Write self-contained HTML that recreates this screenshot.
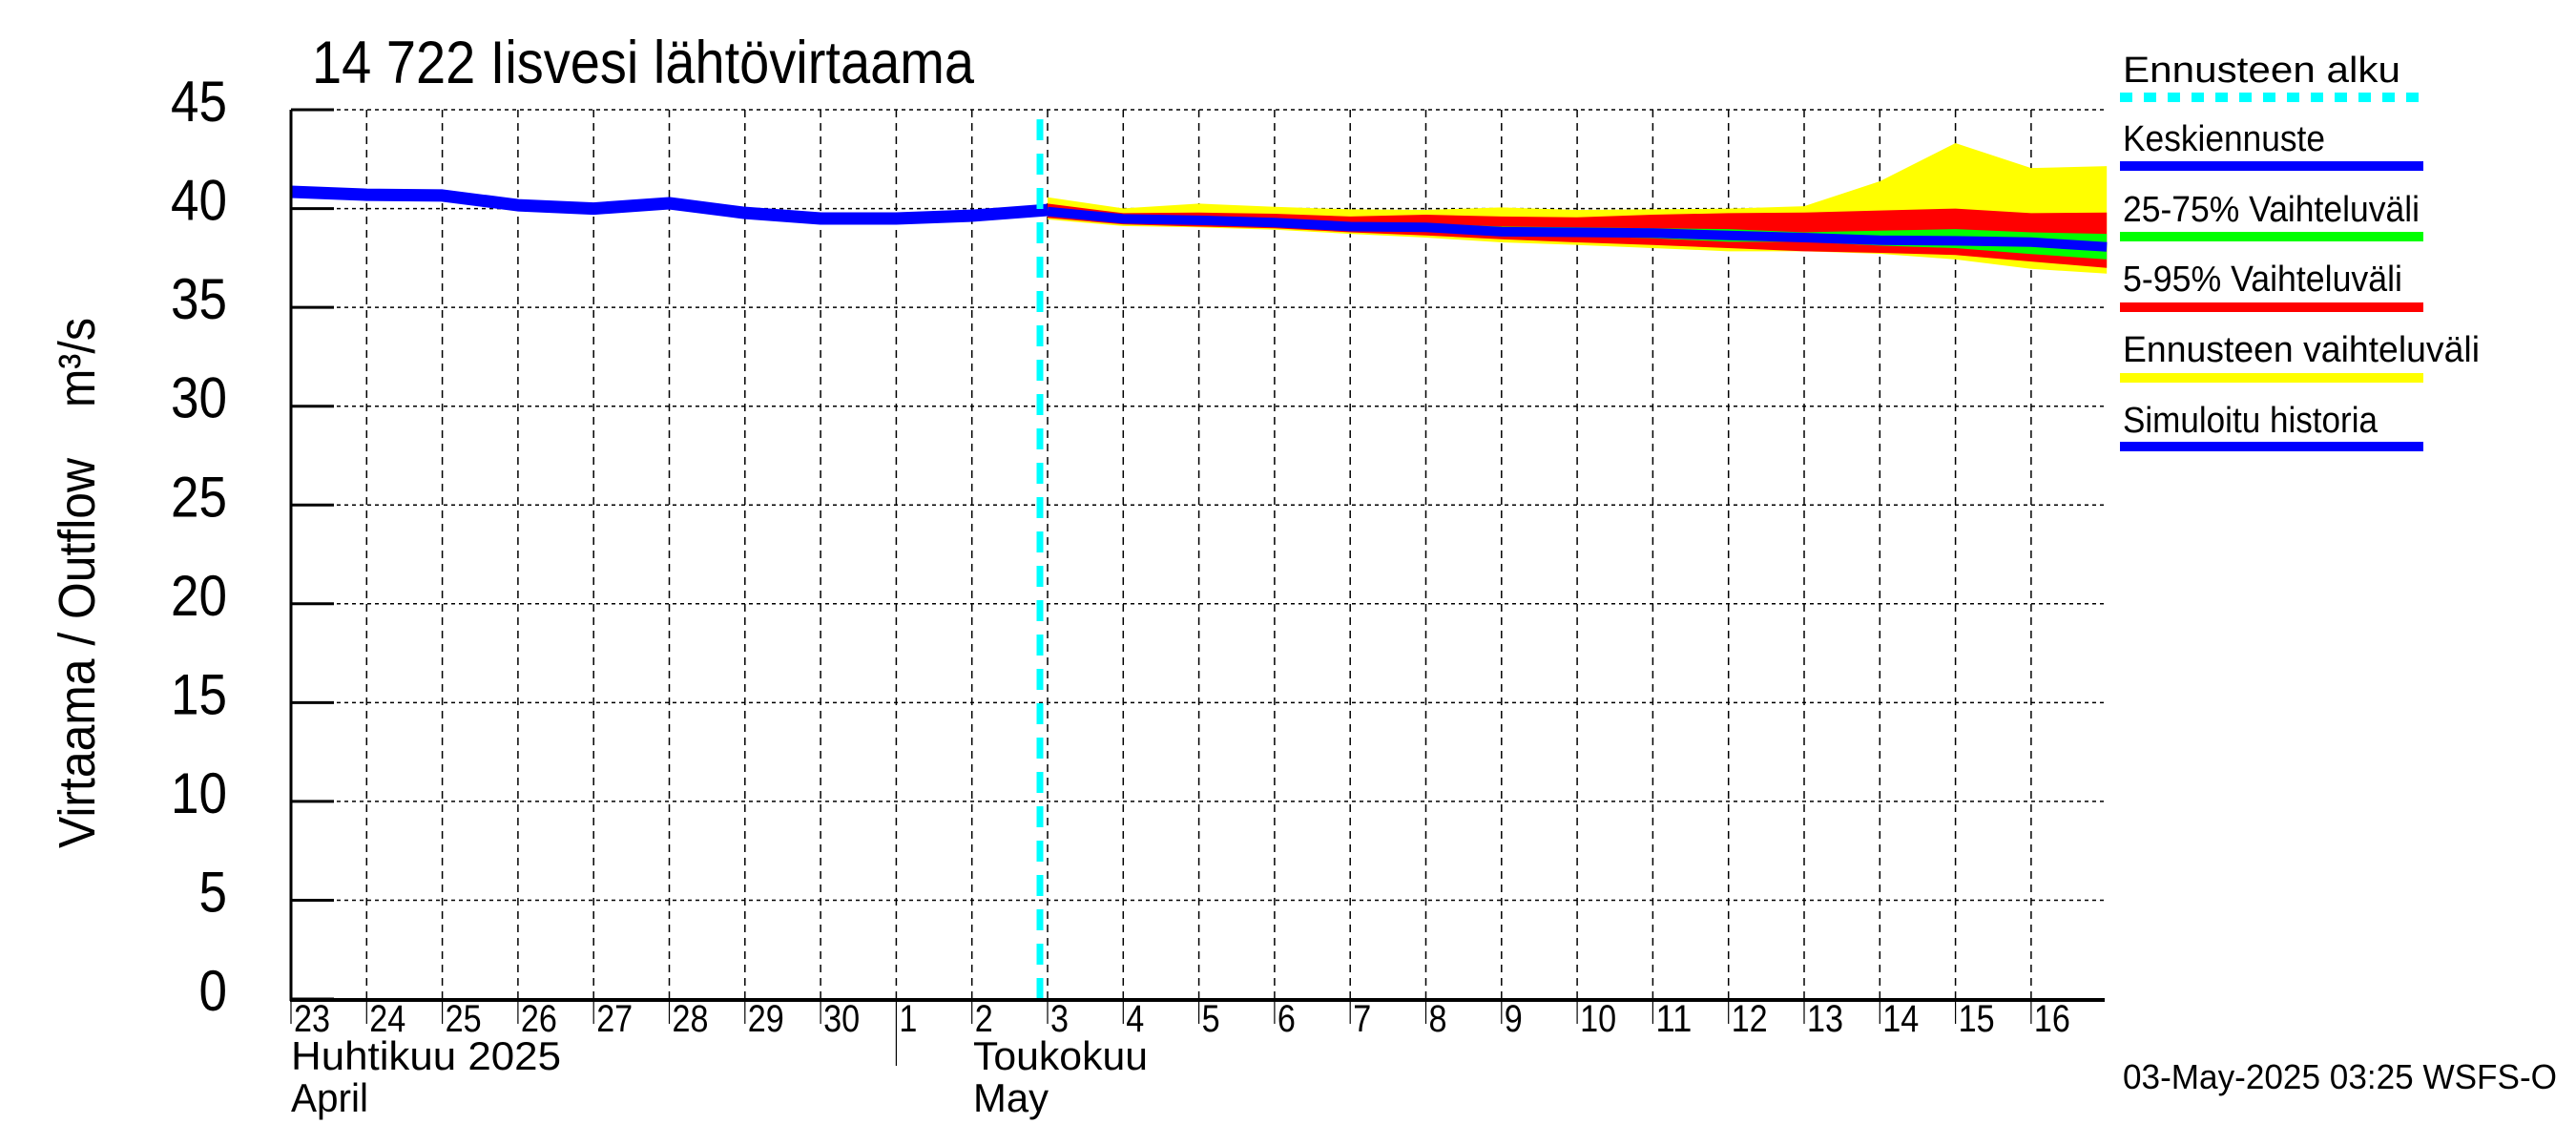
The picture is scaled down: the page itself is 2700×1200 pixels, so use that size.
<!DOCTYPE html>
<html><head><meta charset="utf-8"><style>
html,body{margin:0;padding:0;background:#fff;}
svg{display:block;font-family:"Liberation Sans",sans-serif;}
</style></head><body>
<svg id="chart" width="2700" height="1200" viewBox="0 0 2700 1200" xmlns="http://www.w3.org/2000/svg">
<rect width="2700" height="1200" fill="#fff"/>
<g id="grid"></g>
<g id="bands"></g>
<g id="lines"></g>
<g id="axes"></g>
<text x="327" y="87" font-size="63" textLength="694" lengthAdjust="spacingAndGlyphs">14 722 Iisvesi lähtövirtaama</text>
<g transform="translate(99,889) rotate(-90)">
<text x="0" y="0" font-size="54" textLength="409" lengthAdjust="spacingAndGlyphs">Virtaama / Outflow</text>
<text x="462" y="0" font-size="54" textLength="94" lengthAdjust="spacingAndGlyphs">m³/s</text>
</g>
<text x="2225" y="1141" font-size="36" textLength="455" lengthAdjust="spacingAndGlyphs">03-May-2025 03:25 WSFS-O</text>
<g id="legend"></g>
</svg>
<script>
// ---- data ----
const yTicks = [0,5,10,15,20,25,30,35,40,45];
const dayLabels = ["23","24","25","26","27","28","29","30","1","2","3","4","5","6","7","8","9","10","11","12","13","14","15","16"];
const histDays = [0,1,2,3,4,5,6,7,8,9,10];
const histValues = [40.85,40.7,40.66,40.17,40.0,40.27,39.78,39.5,39.5,39.64,39.93];
const fcDays = [10,11,12,13,14,15,16,17,18,19,20,21,22,23,24];
const fcMedian = [39.85,39.48,39.41,39.29,39.09,39.05,38.83,38.8,38.76,38.64,38.53,38.4,38.37,38.3,38.06];
const fcYellowTop = [40.57,40.01,40.25,40.09,39.96,39.93,40.06,39.93,39.96,40.0,40.12,41.38,43.31,42.05,42.15];
const fcYellowBot = [39.45,39.12,39.05,38.93,38.72,38.53,38.29,38.16,38.0,37.84,37.84,37.71,37.43,36.95,36.71];
const fcRedTop = [40.25,39.77,39.8,39.74,39.6,39.69,39.6,39.56,39.69,39.77,39.8,39.9,40.0,39.77,39.8];
const fcRedBot = [39.53,39.2,39.09,39.0,38.8,38.64,38.45,38.29,38.16,38.0,37.84,37.76,37.65,37.32,37.0];
const fcGreenTop = [39.95,39.55,39.5,39.53,39.3,39.25,39.09,39.05,39.0,38.96,38.8,38.88,38.96,38.8,38.72];
const fcGreenBot = [39.75,39.4,39.3,39.15,38.95,38.9,38.65,38.6,38.5,38.32,38.32,38.13,38.0,37.7,37.43];
const forecastStartDay = 10;

// ---- axes ----
const X0=305, DAYW=79.3, Y0=1047, YPU=20.71, XMAX=2206;
const xs = d => X0 + d*DAYW;
const ys = v => Y0 - v*YPU;
const NS="http://www.w3.org/2000/svg";
function mk(parent,tag,attrs){const e=document.createElementNS(NS,tag);for(const k in attrs)e.setAttribute(k,attrs[k]);document.getElementById(parent).appendChild(e);return e;}

// grid
yTicks.forEach(v=>{ if(v===0) return;
  const l=mk('grid','line',{x1:X0,x2:XMAX,y1:ys(v),y2:ys(v),stroke:'#000','stroke-width':1.5,'stroke-dasharray':'4,4'});
  
  
});
dayLabels.forEach((t,i)=>{ if(i===0) return;
  const l=mk('grid','line',{x1:xs(i),x2:xs(i),y1:ys(45),y2:Y0,stroke:'#000','stroke-width':1.5,'stroke-dasharray':'8,6'});
  
  
});

// bands
function band(top,bot,color,name){
  let pts=fcDays.map((d,i)=>xs(d)+','+ys(top[i]));
  for(let i=fcDays.length-1;i>=0;i--) pts.push(xs(fcDays[i])+','+ys(bot[i]));
  const p=mk('bands','polygon',{points:pts.join(' '),fill:color});
  
  
}
band(fcYellowTop,fcYellowBot,'#ffff00','forecast-range-band');
band(fcRedTop,fcRedBot,'#ff0000','band-5-95');
band(fcGreenTop,fcGreenBot,'#00ff00','band-25-75');

// lines
const hl=mk('lines','polyline',{points:histDays.map((d,i)=>xs(d)+','+ys(histValues[i])).join(' '),fill:'none',stroke:'#0000ff','stroke-width':13,'stroke-linejoin':'round'});


const ml=mk('lines','polyline',{points:fcDays.map((d,i)=>xs(d)+','+ys(fcMedian[i])).join(' '),fill:'none',stroke:'#0000ff','stroke-width':10});


const fl=mk('lines','line',{x1:xs(forecastStartDay)-8,x2:xs(forecastStartDay)-8,y1:ys(45)+10,y2:Y0,stroke:'#00ffff','stroke-width':7,'stroke-dasharray':'22,14'});



// axes lines
const ax=mk('axes','line',{x1:X0,x2:X0,y1:ys(45),y2:Y0+2,stroke:'#000','stroke-width':3});


const bx=mk('axes','line',{x1:X0-1,x2:XMAX,y1:Y0+1,y2:Y0+1,stroke:'#000','stroke-width':4});


yTicks.forEach(v=>{
  const t=mk('axes','line',{x1:X0,x2:X0+45,y1:ys(v),y2:ys(v),stroke:'#000','stroke-width':3});
  
  
  const s=String(v);
  const tx=mk('axes','text',{x:238,y:ys(v)+12,'font-size':60,'text-anchor':'end',textLength:s.length*29.5,lengthAdjust:'spacingAndGlyphs'});
  tx.textContent=s;
  
  
});
dayLabels.forEach((s,i)=>{
  const t=mk('axes','line',{x1:xs(i),x2:xs(i),y1:Y0,y2:(i===8?1117:1073),stroke:'#000','stroke-width':1.2});
  
  
  const tx=mk('axes','text',{x:xs(i)+3,y:1081,'font-size':40,textLength:s.length*19,lengthAdjust:'spacingAndGlyphs'});
  tx.textContent=s;
  
  
});
[[305,1121,'Huhtikuu 2025',283],[305,1165,'April',81],[1020,1121,'Toukokuu',183],[1020,1165,'May',79]].forEach(m=>{
  const tx=mk('axes','text',{x:m[0],y:m[1],'font-size':42,textLength:m[3],lengthAdjust:'spacingAndGlyphs'});
  tx.textContent=m[2];
  
  
});

// legend
const legendItems=[['Ennusteen alku',291,'#00ffff',86,102,true],['Keskiennuste',212,'#0000ff',158,174,false],['25-75% Vaihteluväli',311,'#00ff00',232,248,false],['5-95% Vaihteluväli',293,'#ff0000',305,322,false],['Ennusteen vaihteluväli',374,'#ffff00',379,396,false],['Simuloitu historia',267,'#0000ff',453,468,false]];
legendItems.forEach(it=>{
  const tx=mk('legend','text',{x:2225,y:it[3],'font-size':38,textLength:it[1],lengthAdjust:'spacingAndGlyphs'});
  tx.textContent=it[0];
  
  
  const a={x1:2222,x2:2540,y1:it[4],y2:it[4],stroke:it[2],'stroke-width':10};
  if(it[5]) a['stroke-dasharray']='13,12';
  const l=mk('legend','line',a);
  
  
});
</script>
</body></html>
